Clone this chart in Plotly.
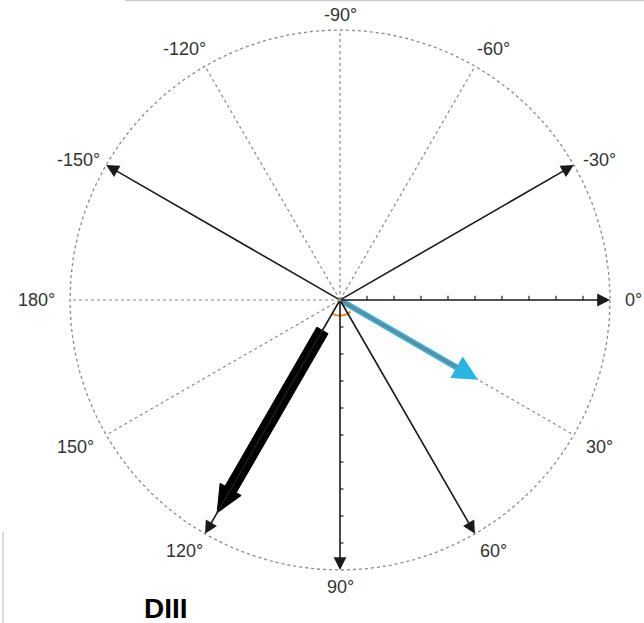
import numpy as np
import plotly.graph_objects as go

# ---- data ----
lead_angles = [0, -30, -150, 60, 90, 120]          # solid lead arrows (deg, clockwise positive)
dotted_angles = [-90, -120, -60, 180, 150, 30]     # dotted reference lines
label_angles = [-90, -60, -30, 0, 30, 60, 90, 120, 150, 180, -150, -120]
label_texts = ["-90°", "-60°", "-30°", "0°", "30°", "60°", "90°", "120°", "150°", "180°", "-150°", "-120°"]
tick_values = [0.1, 0.2, 0.3, 0.4, 0.5, 0.6, 0.7, 0.8, 0.9]
axis_angle = 120        # thick arrow (DIII)
axis_start = 0.13
axis_end = 0.91
vector_angle = 30       # blue vector
vector_len = 0.59
caption = "DIII"

W, H = 644, 623
CX, CY, S = 340, 300, 270


def pt(r, a):
    t = np.deg2rad(a)
    return r * np.cos(t), -r * np.sin(t)


fig = go.Figure()

# circle
th = np.linspace(0, 360, 361)
cx, cy = pt(1.0, th)
fig.add_trace(go.Scatter(x=cx, y=cy, mode="lines",
                         line=dict(color="#8a8a8a", width=1.3, dash="dot"),
                         hoverinfo="skip", showlegend=False))

# dotted lines
for a in dotted_angles:
    x1, y1 = pt(1.0, a)
    fig.add_trace(go.Scatter(x=[0, x1], y=[0, y1], mode="lines",
                             line=dict(color="#8a8a8a", width=1.2, dash="dot"),
                             hoverinfo="skip", showlegend=False))

# ticks on 0° and 90° axes
for v in tick_values:
    fig.add_trace(go.Scatter(x=[v, v], y=[0, 0.016], mode="lines",
                             line=dict(color="#222", width=1.2),
                             hoverinfo="skip", showlegend=False))
    fig.add_trace(go.Scatter(x=[0, 0.013], y=[-v, -v], mode="lines",
                             line=dict(color="#222", width=1.2),
                             hoverinfo="skip", showlegend=False))

annotations = []
# lead arrows
for a in lead_angles:
    x1, y1 = pt(1.0, a)
    annotations.append(dict(x=x1, y=y1, ax=0, ay=0, xref="x", yref="y",
                            axref="x", ayref="y", showarrow=True, text="",
                            arrowhead=2, arrowsize=1.6, arrowwidth=1.6,
                            arrowcolor="#1a1a1a"))

# thick axis arrow (polygon in data units)
ux, uy = pt(1.0, axis_angle)
nx, ny = -uy, ux
bw, hw, hl = 0.024, 0.045, 0.10
sx, sy = ux * axis_start, uy * axis_start
bx, by = ux * (axis_end - hl), uy * (axis_end - hl)
tx, ty = ux * axis_end, uy * axis_end
poly = [(sx + nx * bw, sy + ny * bw), (bx + nx * bw, by + ny * bw), (bx + nx * hw, by + ny * hw),
        (tx, ty), (bx - nx * hw, by - ny * hw), (bx - nx * bw, by - ny * bw),
        (sx - nx * bw, sy - ny * bw)]
path = "M " + " L ".join(f"{px:.5f},{py:.5f}" for px, py in poly) + " Z"

# blue vector: shaft as traces (blue with grey core), head as annotation
vx, vy = pt(vector_len, vector_angle)
hx, hy = pt(vector_len - 0.075, vector_angle)
fig.add_trace(go.Scatter(x=[0, hx], y=[0, hy], mode="lines",
                         line=dict(color="#2ab4e2", width=6),
                         hoverinfo="skip", showlegend=False))
fig.add_trace(go.Scatter(x=[0, hx], y=[0, hy], mode="lines",
                         line=dict(color="#7a7f86", width=2.2),
                         hoverinfo="skip", showlegend=False))
annotations.append(dict(x=vx, y=vy, ax=hx, ay=hy, xref="x", yref="y",
                        axref="x", ayref="y", showarrow=True, text="",
                        arrowhead=2, arrowsize=0.9, arrowwidth=5.5,
                        arrowcolor="#2ab4e2"))

# orange angle mark
oa = np.linspace(48, 120, 30)
ox, oy = pt(0.058, oa)
fig.add_trace(go.Scatter(x=ox, y=oy, mode="lines",
                         line=dict(color="#f07a22", width=2),
                         hoverinfo="skip", showlegend=False))

# labels: placed just outside the circle, pushed sideways by text width
for a, t in zip(label_angles, label_texts):
    c = np.cos(np.deg2rad(a))
    r = 1.055 if abs(c) < 0.1 else 1.075
    lx, ly = pt(r, a)
    if abs(c) < 0.1:
        xs = 0
    elif c > 0:
        xs = 3 if a == 0 else 8
    else:
        xs = -13 if a in (150, 180) else -10
    if a in (-30, -150):
        ys = -5
    elif a in (30, 150, 90):
        ys = -2
    else:
        ys = 0
    annotations.append(dict(x=lx, y=ly, xref="x", yref="y", text=t,
                            showarrow=False, xanchor="center", yanchor="middle",
                            xshift=xs, yshift=ys,
                            font=dict(family="Liberation Sans, Arial", size=18, color="#333")))

annotations.append(dict(x=166 / W, y=1 - 608 / H, xref="paper", yref="paper",
                        text=f"<b>{caption}</b>", showarrow=False,
                        xanchor="center", yanchor="middle",
                        font=dict(family="Liberation Sans, Arial", size=28, color="#000")))

fig.update_layout(
    width=W, height=H, margin=dict(l=0, r=0, t=0, b=0),
    paper_bgcolor="white", plot_bgcolor="white",
    xaxis=dict(range=[-CX / S, (W - CX) / S], visible=False, fixedrange=True),
    yaxis=dict(range=[(CY - H) / S, CY / S], visible=False, fixedrange=True),
    annotations=annotations,
    shapes=[
        dict(type="path", xref="x", yref="y", path=path, fillcolor="#000",
             line=dict(color="#000", width=1)),
        dict(type="line", xref="paper", yref="paper", x0=125 / W, x1=1, y0=1 - 0.5 / H, y1=1 - 0.5 / H,
             line=dict(color="#cfcfcf", width=1.5)),
        dict(type="line", xref="paper", yref="paper", x0=3 / W, x1=3 / W, y0=1 - 532 / H, y1=0,
             line=dict(color="#cfcfcf", width=1.5)),
    ],
)

fig.write_html("out.html", config={"displayModeBar": False},
               post_script="document.body.style.margin='0';document.body.style.overflow='hidden';")
